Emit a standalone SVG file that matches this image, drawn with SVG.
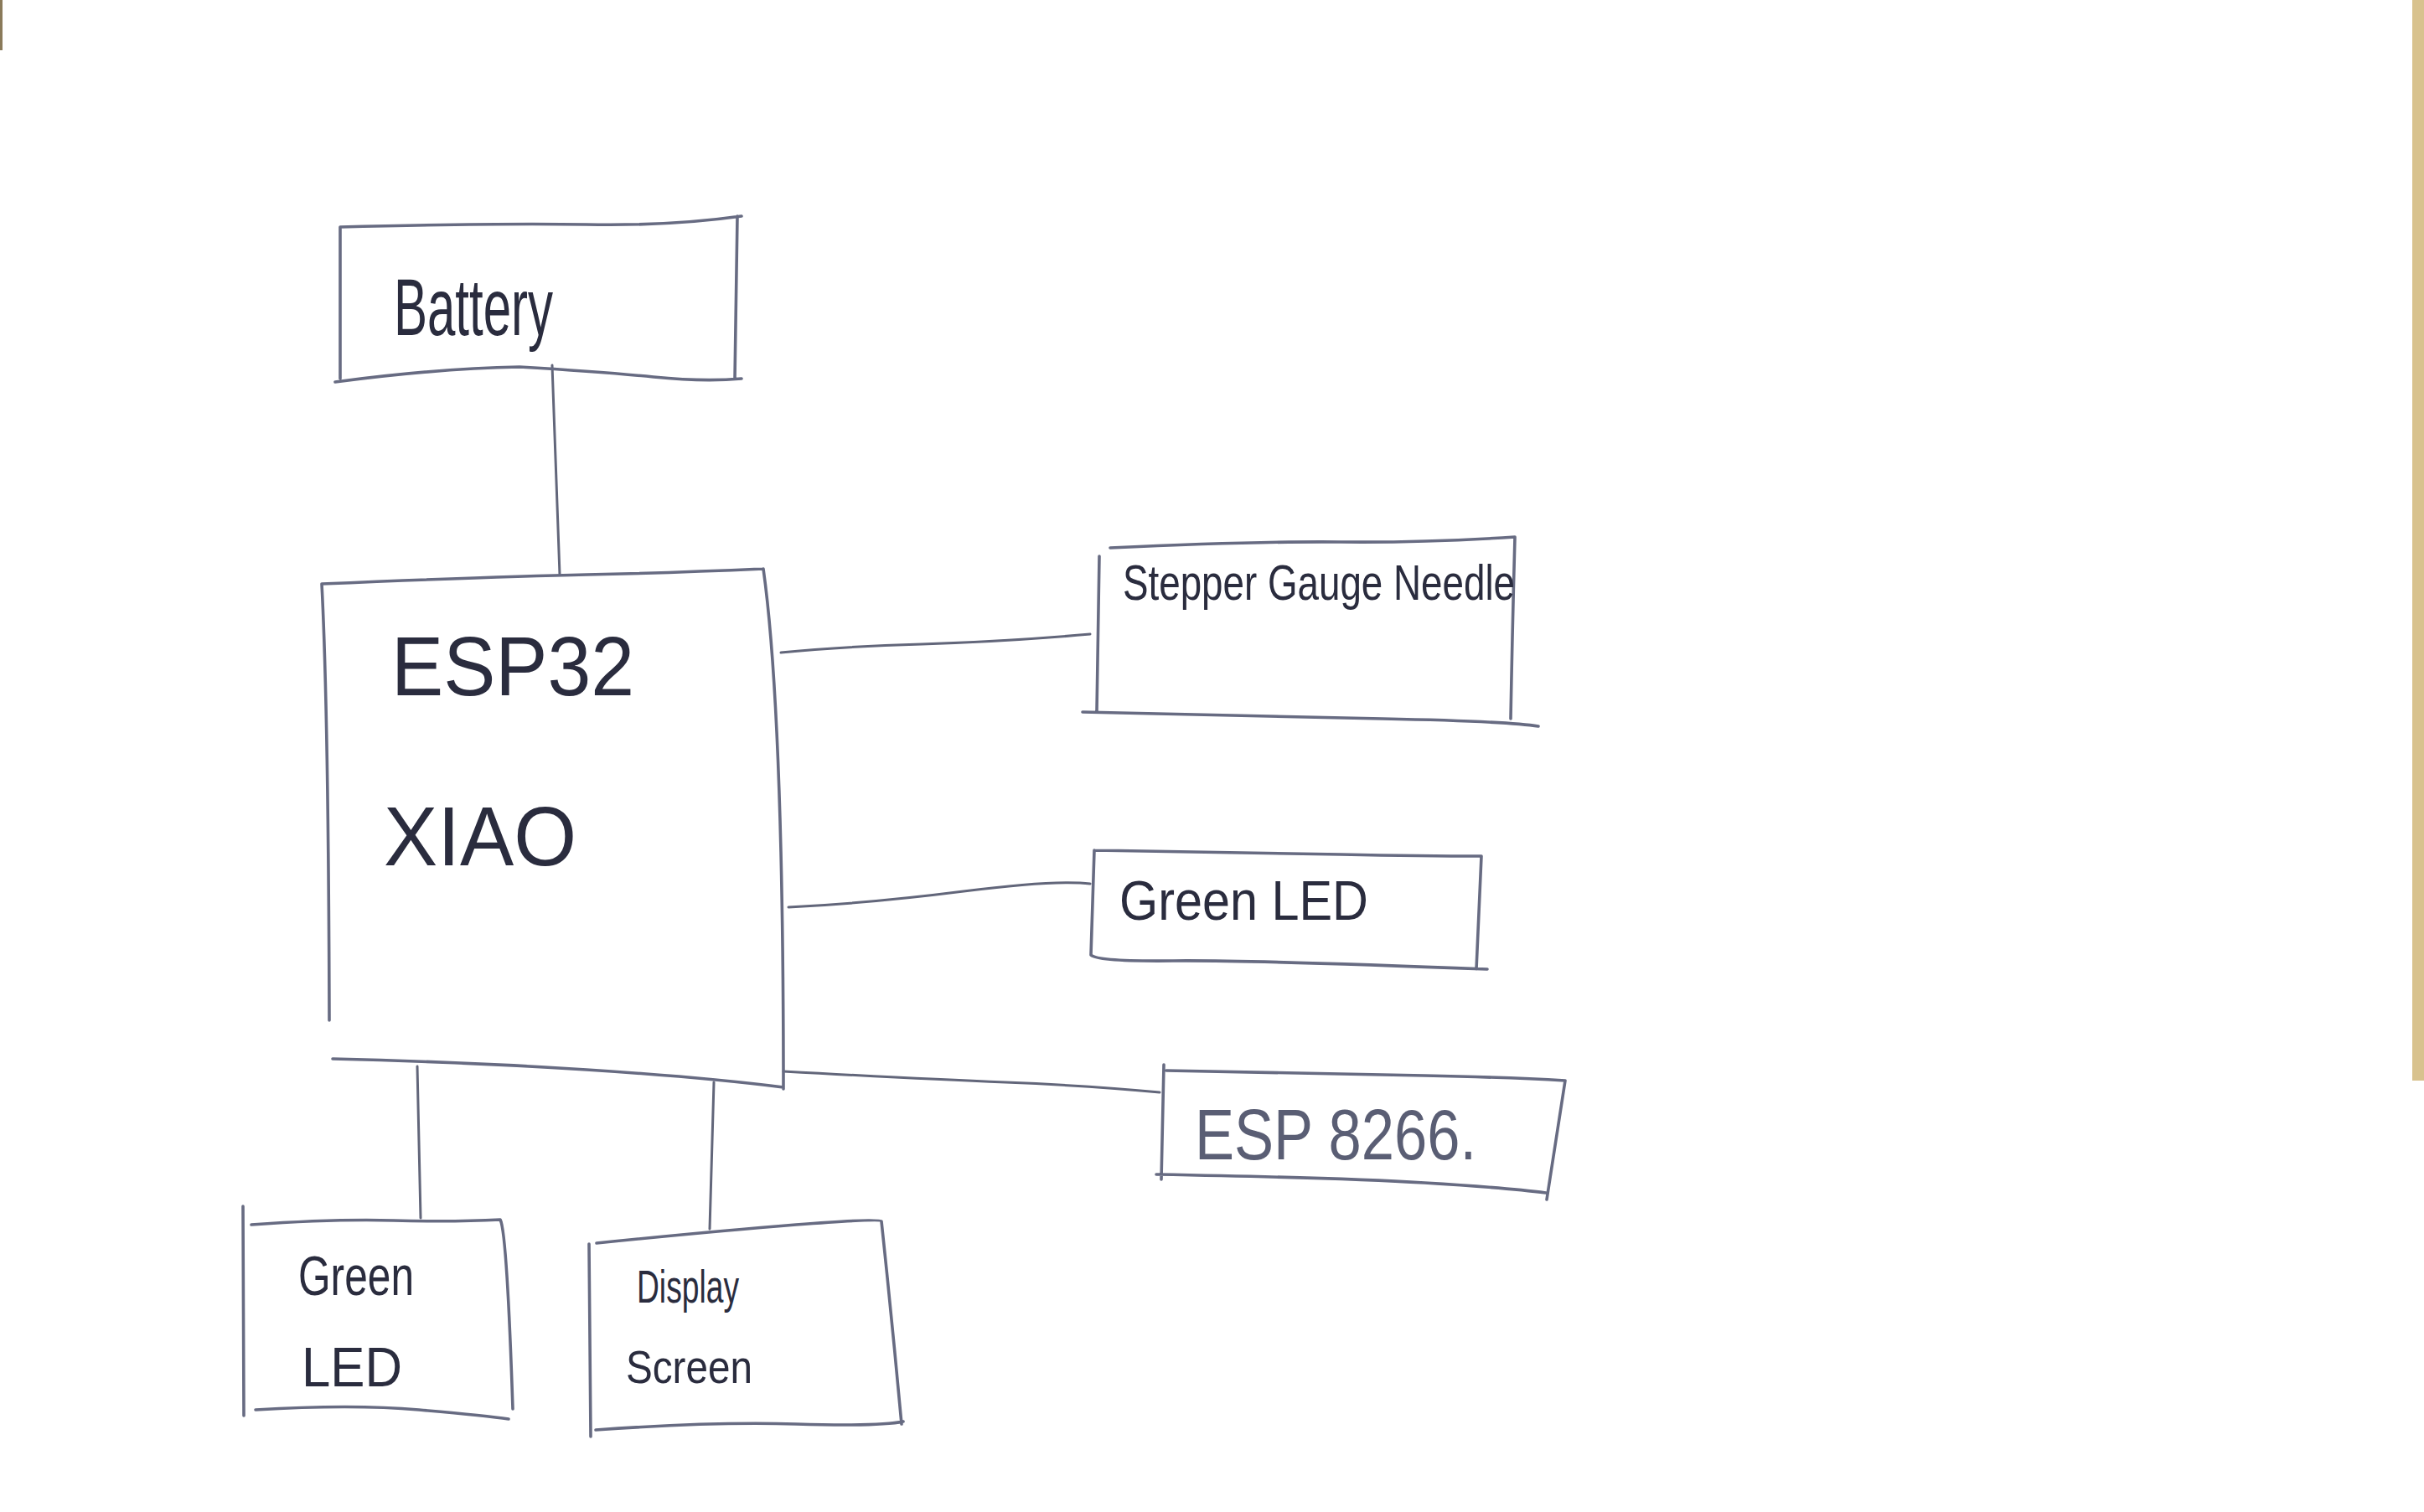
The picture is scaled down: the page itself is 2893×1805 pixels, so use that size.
<svg xmlns="http://www.w3.org/2000/svg" width="2893" height="1805" viewBox="0 0 2893 1805">
<style>
.bx{fill:none;stroke:#676b82;stroke-width:3.6;stroke-linecap:round;stroke-linejoin:round}
.cn{fill:none;stroke:#62667a;stroke-width:3;stroke-linecap:round}
.t{font-family:"Liberation Sans","DejaVu Sans",sans-serif;fill:#2a2c3e}
.tl{font-family:"Liberation Sans","DejaVu Sans",sans-serif;fill:#5a5e74}
</style>
<rect x="0" y="0" width="2893" height="1805" fill="#ffffff"/>
<rect x="2879" y="0" width="14" height="1290" fill="#d8c28e"/>
<rect x="0" y="0" width="3" height="60" fill="#8a7a5a"/>

<g id="connectors">
<path class="cn" d="M659,436 L668,686"/>
<path class="cn" d="M932,779 Q1000,772 1100,769 T1301,757"/>
<path class="cn" d="M941,1083 Q1040,1078 1150,1064 T1301,1055"/>
<path class="cn" d="M935,1279 Q1100,1288 1200,1292 T1384,1304" stroke="#8a90aa"/>
<path class="cn" d="M498,1273 L502,1454"/>
<path class="cn" d="M852,1292 L847,1467"/>
</g>

<g id="battery">
<path class="bx" d="M406,271 Q600,266 700,268 T885,258 M406,271 L406,452 M880,258 L877,452 M400,456 Q520,440 620,438 Q720,444 780,450 T885,452"/>
<text class="t" x="470" y="400" font-size="96" textLength="190" lengthAdjust="spacingAndGlyphs">Battery</text>
</g>

<g id="esp32">
<path class="bx" d="M384,697 Q600,688 700,686 T911,679 M384,697 Q392,850 393,1218 M911,679 Q935,850 935,1300 M397,1264 Q560,1268 700,1277 T935,1298"/>
<text class="t" x="467" y="830" font-size="100" textLength="290" lengthAdjust="spacingAndGlyphs">ESP32</text>
<text class="t" x="458" y="1033" font-size="100" textLength="230" lengthAdjust="spacingAndGlyphs">XIAO</text>
</g>

<g id="stepper">
<path class="bx" d="M1325,654 Q1500,646 1600,647 T1808,641 M1312,664 L1309,849 M1808,641 Q1805,750 1803,858 M1292,850 Q1500,855 1650,858 T1836,867"/>
<text class="t" x="1340" y="716" font-size="60" textLength="468" lengthAdjust="spacingAndGlyphs">Stepper Gauge Needle</text>
</g>

<g id="green-led-right">
<path class="bx" d="M1306,1015 Q1500,1018 1600,1020 T1768,1022 M1306,1015 L1302,1140 Q1310,1148 1400,1147 T1775,1157 M1768,1022 L1762,1157"/>
<text class="t" x="1336" y="1098" font-size="66" textLength="297" lengthAdjust="spacingAndGlyphs">Green LED</text>
</g>

<g id="esp8266">
<path class="bx" d="M1389,1271 L1386,1408 M1392,1278 Q1600,1282 1700,1284 T1868,1290 M1868,1290 L1846,1432 M1380,1402 Q1600,1406 1700,1412 T1845,1424" stroke="#8088a6"/>
<text class="tl" x="1426" y="1384" font-size="86" textLength="336" lengthAdjust="spacingAndGlyphs">ESP 8266.</text>
</g>

<g id="green-led-bottom">
<path class="bx" d="M290,1440 L291,1690 M300,1462 Q400,1455 470,1457 T597,1456 Q605,1470 612,1682 M305,1683 Q420,1676 500,1683 T607,1694" stroke="#4a4e60"/>
<text class="t" x="356" y="1546" font-size="66" textLength="138" lengthAdjust="spacingAndGlyphs">Green</text>
<text class="t" x="360" y="1655" font-size="66" textLength="120" lengthAdjust="spacingAndGlyphs">LED</text>
</g>

<g id="display-screen">
<path class="bx" d="M703,1485 L705,1715 M712,1484 Q850,1470 950,1462 T1052,1458 M1052,1458 Q1065,1580 1076,1700 M711,1707 Q850,1697 950,1700 T1078,1697"/>
<text class="t" x="760" y="1555" font-size="56" textLength="122" lengthAdjust="spacingAndGlyphs">Display</text>
<text class="t" x="747" y="1651" font-size="56" textLength="151" lengthAdjust="spacingAndGlyphs">Screen</text>
</g>
</svg>
